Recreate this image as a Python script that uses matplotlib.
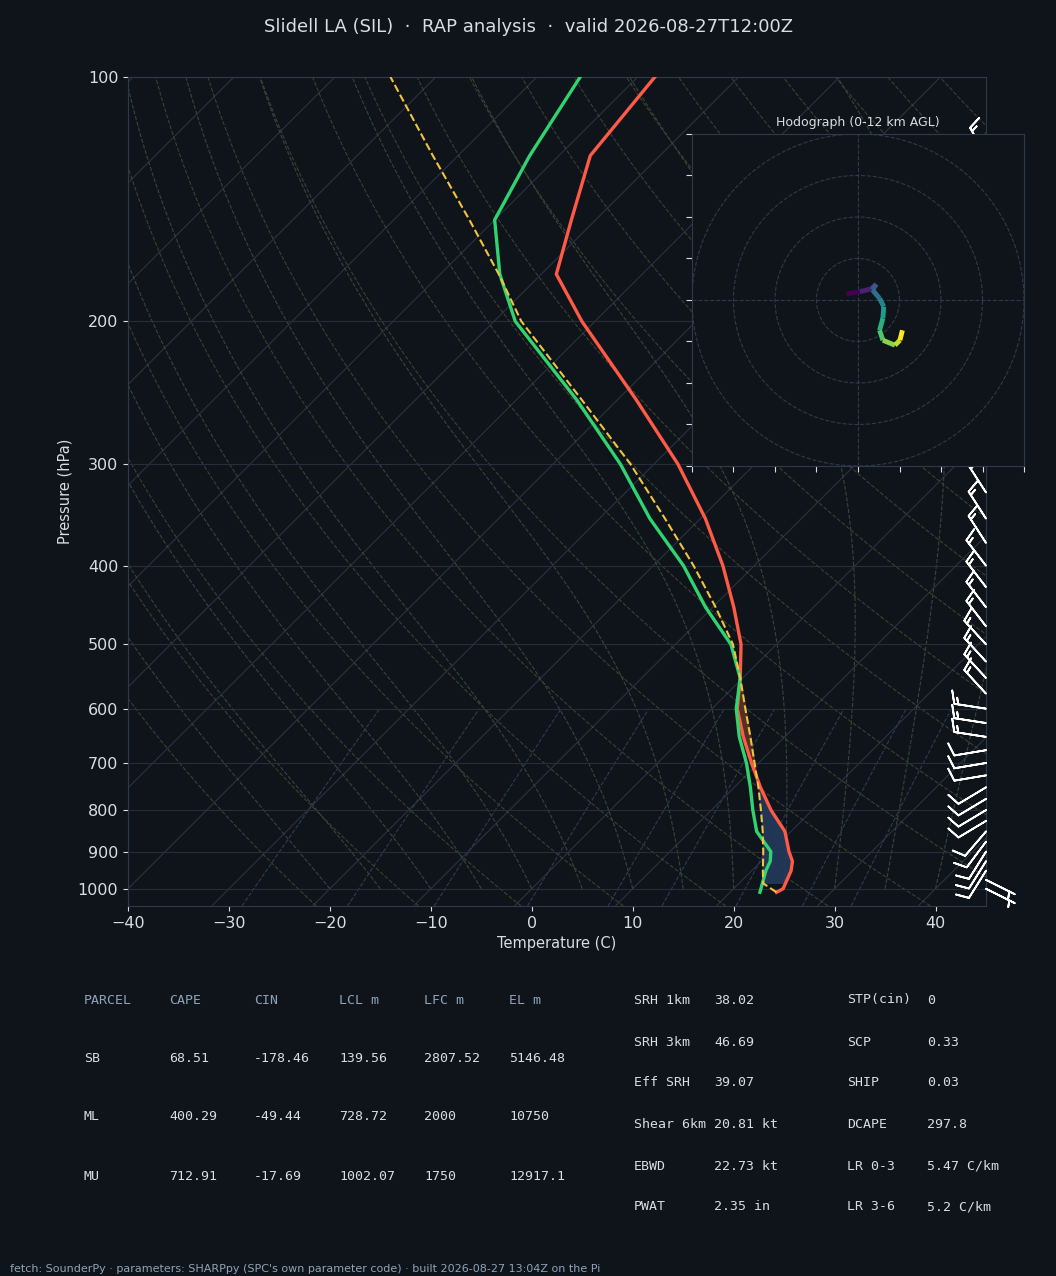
import numpy as np
import matplotlib
matplotlib.use("Agg")
import matplotlib.pyplot as plt
from matplotlib.collections import LineCollection
import matplotlib.transforms as mtrans

# ---------------- data ----------------
p_env = [1010, 1000, 950, 925, 900, 850, 800, 750, 700, 650, 600, 550, 500, 450, 400, 350, 300, 250, 200, 175, 150, 125, 100]
t_env = [24.6, 24.9, 23.9, 23.1, 21.8, 19.4, 15.9, 12.6, 9.3, 5.9, 2.5, -0.25, -3.5, -7.9, -13.1, -19.5, -27.6, -38.1, -51.3, -58.5, -62.4, -66.9, -68.3]
td_env = [22.95, 22.7, 21.4, 20.9, 20.0, 16.6, 14.1, 11.6, 8.8, 5.5, 2.4, -0.25, -4.5, -10.7, -17.0, -25.0, -33.3, -44.0, -57.9, -64.1, -70.0, -72.9, -75.7]
p_parcel = [1010, 985, 950, 900, 850, 800, 750, 700, 650, 600, 550, 500, 450, 400, 350, 300, 250, 200, 175, 150, 125, 100]
t_parcel = [24.6, 22.4, 21.1, 19.25, 17.2, 14.9, 12.4, 9.6, 6.6, 3.3, -0.25, -4.3, -9.7, -16.0, -23.5, -32.3, -43.5, -57.3, -64.2, -72.5, -82.5, -94.5]

barb_p = list(range(1000, 124, -25))
barb_u = [-6, -6, 5, 5, 5, 6, 6, 10, 10, 10, 10, 12, 12, 12, 13, 13, 13, 11, 11, 11, 11, 10, 10, 10, 10, 9, 9, 9, 8, 8, 8, 8, 8, 8, 8, 8]
barb_v = [3, 3, 8, 8, 8, 8, 7, 6, 6, 6, 6, 2, 2, 2, -2, -2, -2, -12, -12, -12, -12, -13, -13, -13, -13, -14, -14, -14, -14, -14, -14, -14, -14, -14, -14, -14]

hodo_u = [-2.8, 0.4, 3.2, 4.4, 3.5, 5.2, 6.2, 6.0, 5.2, 6.0, 8.9, 10.1, 10.7]
hodo_v = [1.4, 2.0, 2.7, 3.8, 2.4, 0.4, -1.6, -4.4, -7.3, -9.7, -10.9, -9.7, -7.3]

title = "Slidell LA (SIL)  \u00b7  RAP analysis  \u00b7  valid 2026-08-27T12:00Z"
parcel_hdr = ["PARCEL", "CAPE", "CIN", "LCL m", "LFC m", "EL m"]
parcel_rows = [["SB", "68.51", "-178.46", "139.56", "2807.52", "5146.48"],
               ["ML", "400.29", "-49.44", "728.72", "2000", "10750"],
               ["MU", "712.91", "-17.69", "1002.07", "1750", "12917.1"]]
mid_labels = ["SRH 1km", "SRH 3km", "Eff SRH", "Shear 6km", "EBWD", "PWAT"]
mid_values = ["38.02", "46.69", "39.07", "20.81 kt", "22.73 kt", "2.35 in"]
right_labels = ["STP(cin)", "SCP", "SHIP", "DCAPE", "LR 0-3", "LR 3-6"]
right_values = ["0", "0.33", "0.03", "297.8", "5.47 C/km", "5.2 C/km"]
footer = "fetch: SounderPy \u00b7 parameters: SHARPpy (SPC's own parameter code) \u00b7 built 2026-08-27 13:04Z on the Pi"

# ---------------- style ----------------
BG = "#0f141b"
FG = "#d8dde3"
MUTED = "#8fa3b8"
SKEW = 80.5

def sx(t, p):
    return np.asarray(t) + SKEW * np.log10(1000.0 / np.asarray(p, dtype=float))

fig = plt.figure(figsize=(10.56, 12.76), dpi=100, facecolor=BG)
ax = fig.add_axes([0.1212, 0.2900, 0.8125, 0.6497], facecolor=BG)
ax.set_yscale("log")
ax.set_ylim(1050, 100)
ax.set_xlim(-40, 45)

pp = np.logspace(np.log10(1050), 2, 200)
for T in range(-160, 51, 10):
    ax.plot(sx(T, pp), pp, color="#2a3340", lw=0.8, zorder=1)
for th in range(250, 461, 10):
    T = th * (pp / 1000.0) ** 0.2857 - 273.15
    ax.plot(sx(T, pp), pp, color="#4a4a32", lw=0.8, ls="--", alpha=0.8, zorder=1)

def es(T):
    return 6.112 * np.exp(17.67 * T / (T + 243.5))
def moist_dTdp(T, p):
    Tk = T + 273.15
    rs = 0.622 * es(T) / (p - es(T))
    Lv, Rd, cp, eps = 2.501e6, 287.0, 1005.0, 0.622
    num = Rd * Tk + Lv * rs
    den = cp + Lv * Lv * rs * eps / (Rd * Tk * Tk)
    return num / den / p
for T0 in range(-20, 41, 5):
    up = [float(T0)]; pu = np.linspace(1000, 100, 200)
    for i in range(1, len(pu)):
        dp = pu[i] - pu[i - 1]
        up.append(up[-1] + moist_dTdp(up[-1], pu[i - 1]) * dp)
    ax.plot(sx(np.array(up), pu), pu, color="#35463a", lw=0.8, ls="--", zorder=1)
pw = np.logspace(np.log10(1050), np.log10(600), 50)
for w in [0.4, 1, 2, 4, 7, 10, 16, 24, 32]:
    e = pw * w / (622.0 + w)
    lnr = np.log(e / 6.112)
    Td = 243.5 * lnr / (17.67 - lnr)
    ax.plot(sx(Td, pw), pw, color="#2c3d52", lw=0.8, ls="--", zorder=1)

for p in [100, 200, 300, 400, 500, 600, 700, 800, 900, 1000]:
    ax.axhline(p, color="#252e3a", lw=0.8, zorder=1)

pf = np.logspace(np.log10(1000), 2, 400)
tp = np.interp(np.log(pf), np.log(p_parcel[::-1]), t_parcel[::-1])
te = np.interp(np.log(pf), np.log(p_env[::-1]), t_env[::-1])
xp, xe = sx(tp, pf), sx(te, pf)
ax.fill_betweenx(pf, xp, xe, where=(tp > te) & (pf > 450), color="#5a3424", alpha=0.9, zorder=2)
ax.fill_betweenx(pf, xp, xe, where=(tp < te) & (pf > 720) & (pf < 985), color="#243a5c", alpha=0.9, zorder=2)

ax.plot(sx(t_env, p_env), p_env, color="#ff5a45", lw=2.4, zorder=4)
ax.plot(sx(td_env, p_env), p_env, color="#2fd36f", lw=2.4, zorder=4)
ax.plot(sx(t_parcel, p_parcel), p_parcel, color="#f2c43d", lw=1.5, ls="--", zorder=5)

trans = mtrans.blended_transform_factory(ax.transAxes, ax.transData)
ax.barbs(np.ones(len(barb_p)), barb_p, barb_u, barb_v, transform=trans, color="white",
         length=6.8, linewidth=1.3, clip_on=False, zorder=6)

ax.set_yticks([100, 200, 300, 400, 500, 600, 700, 800, 900, 1000])
ax.set_yticklabels(["100", "200", "300", "400", "500", "600", "700", "800", "900", "1000"])
ax.minorticks_off()
ax.set_xticks(range(-40, 41, 10))
ax.set_xticklabels(["\u221240", "\u221230", "\u221220", "\u221210", "0", "10", "20", "30", "40"])
ax.tick_params(colors=FG, labelsize=11.5)
for s in ax.spines.values():
    s.set_color("#2e3a4a")
ax.set_xlabel("Temperature (C)", color=FG, fontsize=10.5)
ax.set_ylabel("Pressure (hPa)", color=FG, fontsize=10.5)
fig.text(0.5, 0.979, title, ha="center", va="center", color=FG, fontsize=13)

hx = fig.add_axes([0.6553, 0.6348, 0.3144, 0.2602], facecolor=BG)
hx.set_xlim(-40, 40); hx.set_ylim(-40, 40)
th = np.linspace(0, 2 * np.pi, 200)
for r in [10, 20, 30, 40]:
    hx.plot(r * np.cos(th), r * np.sin(th), color="#2e3a4a", lw=0.8, ls="--")
hx.axhline(0, color="#2e3a4a", lw=0.8, ls="--")
hx.axvline(0, color="#2e3a4a", lw=0.8, ls="--")
pts = np.column_stack([hodo_u, hodo_v])
segs = np.stack([pts[:-1], pts[1:]], axis=1)
lc = LineCollection(segs, cmap="viridis", linewidths=3.5)
lc.set_array(np.arange(len(segs)))
hx.add_collection(lc)
hx.set_xticks(range(-40, 41, 10)); hx.set_yticks(range(-40, 41, 10))
hx.set_xticklabels([]); hx.set_yticklabels([])
hx.tick_params(colors=FG, length=4)
for s in hx.spines.values():
    s.set_color("#2e3a4a")
hx.set_title("Hodograph (0-12 km AGL)", color=FG, fontsize=9)

mono = "DejaVu Sans Mono"
cols = [84, 169, 254, 339, 424, 509]
rows_y = [1000, 1058, 1117, 1176]
for x, h in zip(cols, parcel_hdr):
    fig.text(x / 1056, 1 - rows_y[0] / 1276, h, color=MUTED, fontsize=9.5, family=mono, va="center")
for r, row in enumerate(parcel_rows):
    for x, v in zip(cols, row):
        fig.text(x / 1056, 1 - rows_y[r + 1] / 1276, v, color=FG, fontsize=9.5, family=mono, va="center")
ys = [1000, 1042, 1083, 1124, 1166, 1207]
for y, l, v in zip(ys, mid_labels, mid_values):
    fig.text(634 / 1056, 1 - y / 1276, l, color=FG, fontsize=9.5, family=mono, va="center")
    fig.text(714 / 1056, 1 - y / 1276, v, color=FG, fontsize=9.5, family=mono, va="center")
for y, l, v in zip(ys, right_labels, right_values):
    fig.text(847 / 1056, 1 - y / 1276, l, color=FG, fontsize=9.5, family=mono, va="center")
    fig.text(927 / 1056, 1 - y / 1276, v, color=FG, fontsize=9.5, family=mono, va="center")
fig.text(10 / 1056, 1 - 1269 / 1276, footer, color=MUTED, fontsize=8, va="center")

fig.savefig("out.png", dpi=100, facecolor=BG)
